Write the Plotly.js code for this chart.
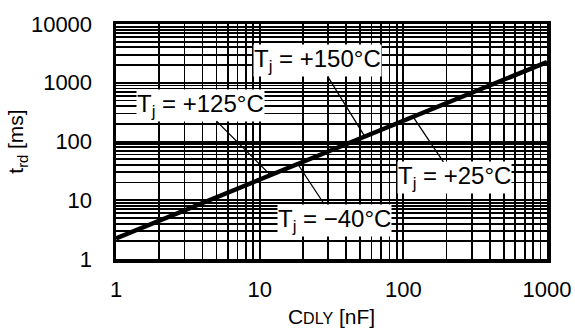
<!DOCTYPE html>
<html>
<head>
<meta charset="utf-8">
<script src="https://cdn.plot.ly/plotly-3.0.1.min.js"></script>
<style>html,body{margin:0;padding:0;background:#fff;}#chart{width:575px;height:331px;}</style>
</head>
<body>
<div id="chart"></div>
<script>
// Delay capacitance (nF) and delay time (ms)
const capNF = [1, 10, 100, 1000];
const delayMs = [2.25, 22.5, 225, 2250];

// Temperature labels and the point on the curve each one points to
const labelTexts = ['T<sub>j</sub> = +150°C', 'T<sub>j</sub> = +125°C', 'T<sub>j</sub> = +25°C', 'T<sub>j</sub> = −40°C'];
const labelCap = [54, 11.9, 117, 18.4];
const labelDelay = [121, 26.8, 262, 41.4];

// Tick labels
const xTickVals = [1, 10, 100, 1000];
const xTickText = ['1', '10', '100', '1000'];
const yTickVals = [1, 10, 100, 1000, 10000];
const yTickText = ['1', '10', '100', '1000', '10000'];

const labelOffsets = [[-47, -76], [-70, -70], [41, 61], [37, 56]];

const FONT = 'Liberation Sans, Arial, sans-serif';

const annotations = labelTexts.map((t, i) => ({
  x: Math.log10(labelCap[i]), y: Math.log10(labelDelay[i]),
  xref: 'x', yref: 'y',
  text: t, showarrow: true, arrowhead: 0, arrowwidth: 1.3, arrowcolor: '#000',
  ax: labelOffsets[i][0], ay: labelOffsets[i][1], standoff: 0,
  bgcolor: '#fff', borderpad: 0, font: {family: FONT, size: 24, color: '#000'}
}));

const gridMinor = {dtick: 'D1', showgrid: true, gridcolor: '#000', gridwidth: 1.8, ticks: ''};

Plotly.newPlot('chart', [{
  x: capNF, y: delayMs, type: 'scatter', mode: 'lines',
  line: {color: '#000', width: 4.5}, hoverinfo: 'skip'
}], {
  width: 575, height: 331,
  margin: {l: 116, r: 28, t: 24, b: 72, pad: 0},
  paper_bgcolor: '#fff', plot_bgcolor: '#fff',
  showlegend: false,
  font: {family: FONT, size: 22, color: '#000'},
  xaxis: {
    type: 'log', range: [0, 3], tickmode: 'array', tickvals: xTickVals, ticktext: xTickText,
    showgrid: true, gridcolor: '#000', gridwidth: 2, ticks: '', ticklabelstandoff: 8,
    showline: true, mirror: true, linecolor: '#000', linewidth: 3.5, zeroline: false,
    minor: gridMinor,
    tickfont: {family: FONT, size: 22, color: '#000'},
    title: {text: "C<span style='font-size:16px'>DLY</span> [nF]", font: {family: FONT, size: 21, color: '#000'}, standoff: 9}
  },
  yaxis: {
    type: 'log', range: [0, 4], tickmode: 'array', tickvals: yTickVals, ticktext: yTickText,
    showgrid: true, gridcolor: '#000', gridwidth: 2, ticks: '', ticklabelstandoff: 16,
    showline: true, mirror: true, linecolor: '#000', linewidth: 3.5, zeroline: false,
    minor: gridMinor,
    tickfont: {family: FONT, size: 22, color: '#000'},
    title: {text: 't<sub>rd</sub> [ms]', font: {family: FONT, size: 21, color: '#000'}, standoff: 2}
  },
  annotations: annotations
}, {staticPlot: true});
</script>
</body>
</html>
